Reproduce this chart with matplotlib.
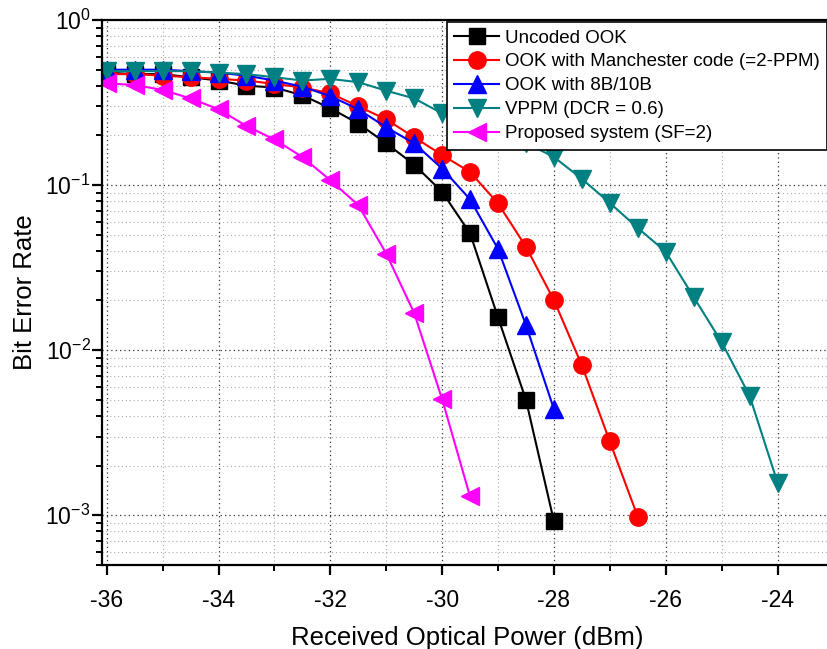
import numpy as np
import matplotlib
matplotlib.use('Agg')
import matplotlib.pyplot as plt
from matplotlib.ticker import LogLocator, MultipleLocator, NullFormatter

plt.rcParams['font.family'] = ['Liberation Sans', 'DejaVu Sans']
plt.rcParams['mathtext.fontset'] = 'custom'
plt.rcParams['mathtext.rm'] = 'Liberation Sans'
plt.rcParams['axes.unicode_minus'] = False

# received optical power (dBm), 0.5 dB steps
x_ook = np.arange(-36, -27.99, 0.5)
x_manch = np.arange(-36, -26.49, 0.5)
x_8b10b = np.arange(-36, -27.99, 0.5)
x_vppm = np.arange(-36, -23.99, 0.5)
x_prop = np.arange(-36, -29.49, 0.5)

ber_ook = [0.48, 0.47, 0.47, 0.45, 0.43, 0.40, 0.39, 0.35, 0.292, 0.236, 0.179,
           0.133, 0.091, 0.051, 0.0158, 0.0050, 0.00092]
ber_manch = [0.47, 0.47, 0.46, 0.45, 0.44, 0.43, 0.41, 0.39, 0.36, 0.30, 0.25,
             0.195, 0.152, 0.12, 0.0774, 0.0423, 0.0201, 0.0081, 0.0028, 0.00098]
ber_8b10b = [0.50, 0.50, 0.50, 0.49, 0.48, 0.46, 0.43, 0.394, 0.346, 0.288, 0.224,
             0.179, 0.126, 0.082, 0.041, 0.0142, 0.0044]
ber_vppm = [0.49, 0.49, 0.49, 0.49, 0.48, 0.47, 0.45, 0.43, 0.44, 0.42, 0.373,
            0.335, 0.272, 0.24, 0.21, 0.18, 0.148, 0.109, 0.078, 0.055, 0.0395,
            0.021, 0.0112, 0.0053, 0.00158]
ber_prop = [0.413, 0.404, 0.377, 0.335, 0.288, 0.228, 0.189, 0.148, 0.107, 0.0757,
            0.0385, 0.0168, 0.00505, 0.0013]

labels = ['Uncoded OOK', 'OOK with Manchester code (=2-PPM)', 'OOK with 8B/10B',
          'VPPM (DCR = 0.6)', 'Proposed system (SF=2)']

fig = plt.figure(figsize=(8.28, 6.49), dpi=100)
ax = fig.add_axes([101.7/828, 1-565/649, 731.7/828, 545/649])

ms = 12.5
ax.plot(x_ook, ber_ook, '-s', color='black', lw=1.5, ms=ms-1.5, label=labels[0])
ax.plot(x_manch, ber_manch, '-o', color='#ff0000', lw=1.5, ms=ms, label=labels[1])
ax.plot(x_8b10b, ber_8b10b, '-^', color='#0000ff', lw=1.5, ms=ms, label=labels[2])
ax.plot(x_vppm, ber_vppm, '-v', color='#008080', lw=1.5, ms=ms, label=labels[3])
ax.plot(x_prop, ber_prop, '-<', color='#ff00ff', lw=1.5, ms=ms, label=labels[4])

ax.set_yscale('log')
ax.set_xlim(-36.09, -23.0)
ax.set_ylim(5e-4, 1)
ax.xaxis.set_major_locator(MultipleLocator(2))
ax.xaxis.set_minor_locator(MultipleLocator(1))
ax.yaxis.set_major_locator(LogLocator(base=10, numticks=10))
ax.yaxis.set_minor_locator(LogLocator(base=10, subs=np.arange(2, 10), numticks=10))
ax.yaxis.set_minor_formatter(NullFormatter())

ax.grid(which='major', color='#333333', linestyle=(0, (1, 2.5)), lw=0.9)
ax.grid(which='minor', color='#aaaaaa', linestyle=(0, (1, 2.5)), lw=0.8)
ax.set_axisbelow(True)

for s in ax.spines.values():
    s.set_linewidth(1.6)
ax.tick_params(which='major', direction='out', length=7, width=1.6, labelsize=16.5)
ax.tick_params(axis='x', which='major', pad=10)
ax.tick_params(axis='y', which='major', pad=1)
ax.tick_params(which='minor', direction='out', length=4.5, width=1.4)

ax.set_xlabel('Received Optical Power (dBm)', fontsize=18.5, labelpad=10)
ax.set_ylabel('Bit Error Rate', fontsize=18.5, labelpad=6)

leg = ax.legend(loc='upper left', bbox_to_anchor=(447/828, 1-22/649),
                bbox_transform=fig.transFigure, fontsize=13.5, frameon=True,
                fancybox=False, framealpha=1, edgecolor='black', borderpad=0.4,
                labelspacing=0.36, handlelength=2.4, handletextpad=0.3,
                borderaxespad=0, markerscale=1.0)
leg.get_frame().set_linewidth(1.2)

fig.savefig('out.png', dpi=100)
